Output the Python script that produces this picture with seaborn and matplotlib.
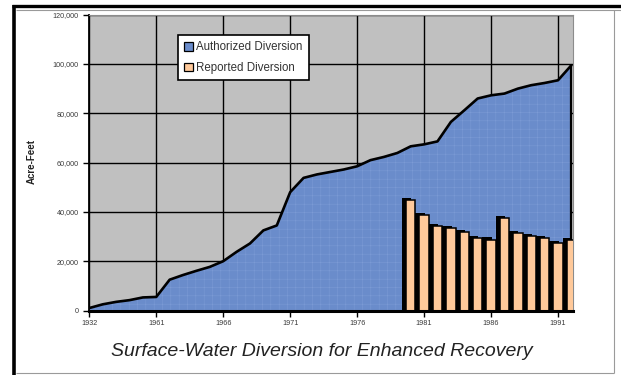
import matplotlib
matplotlib.use("Agg")
import matplotlib.pyplot as plt
from matplotlib.lines import Line2D
from matplotlib.patches import Patch
import numpy as np
import seaborn as sns

# Category axis: one point per year of record
years = ["1932", "1957", "1958", "1959", "1960", "1961", "1962", "1963", "1964",
         "1965", "1966", "1967", "1968", "1969", "1970", "1971", "1972", "1973",
         "1974", "1975", "1976", "1977", "1978", "1979", "1980", "1981", "1982",
         "1983", "1984", "1985", "1986", "1987", "1988", "1989", "1990", "1991",
         "1992"]

# Cumulative authorized diversion (acre-feet)
authorized = [1000, 2500, 3500, 4200, 5300, 5500, 12500, 14400, 16100, 17700,
              20000, 23800, 27200, 32500, 34500, 48000, 53800, 55200, 56200,
              57200, 58500, 61000, 62300, 63900, 66600, 67400, 68600, 76500,
              81200, 86000, 87300, 88000, 90000, 91400, 92300, 93400, 99500]

# Reported diversion (acre-feet)
reported_years = ["1980", "1981", "1982", "1983", "1984", "1985", "1986",
                  "1987", "1988", "1989", "1990", "1991", "1992"]
reported = [44700, 38600, 34200, 33500, 31900, 29500, 28800, 37600, 31500,
            30200, 29500, 27200, 28500]

tick_years = ["1932", "1961", "1966", "1971", "1976", "1981", "1986", "1991"]
y_ticks = [0, 20000, 40000, 60000, 80000, 100000, 120000]

sns.set_theme(style="white")
plt.rcParams["font.family"] = ["Liberation Sans", "DejaVu Sans"]
plt.rcParams["hatch.linewidth"] = 0.35

BLUE = "#6A8CCB"
ORANGE = "#FFC99A"
GRAY_BG = "#C0C0C0"

W, H = 621, 375
fig = plt.figure(figsize=(W / 100, H / 100), dpi=100)
fig.patch.set_facecolor("white")

x0, x1, ytop, ybot = 89.3, 573.0, 14.7, 310.5
ax = fig.add_axes([x0 / W, 1 - ybot / H, (x1 - x0) / W, (ybot - ytop) / H])
ax.set_facecolor(GRAY_BG)

pos = {y: i for i, y in enumerate(years)}
xs = np.arange(len(years))

# Authorized diversion as a filled area with a heavy outline
ax.fill_between(xs, 0, authorized, facecolor=BLUE, edgecolor="#7d9cd6",
                hatch="++", linewidth=0, zorder=2)
sns.lineplot(x=xs, y=authorized, color="black", linewidth=1.9, ax=ax,
             zorder=3, legend=False)
ax.vlines(xs[-1], 0, authorized[-1], color="black", linewidth=1.6, zorder=3)

# Reported diversion as columns with a dark depth face on the left
bx = np.array([pos[y] for y in reported_years], dtype=float)
rv = np.array(reported, dtype=float)
ax.bar(bx - 0.3, rv + 900, width=0.7, color="black", linewidth=0, zorder=4)
ax.bar(bx, rv, width=0.7, color=ORANGE, edgecolor="black", linewidth=1.1,
       zorder=5)

ax.set_xlim(0, len(years) - 1 + 0.12)
ax.set_ylim(0, 120000)

ax.set_xticks([pos[y] for y in tick_years])
ax.set_xticklabels(tick_years)
ax.set_yticks(y_ticks)
ax.set_yticklabels([f"{v:,}" for v in y_ticks])
ax.grid(True, color="black", linewidth=1.0)
ax.set_axisbelow(True)

ax.tick_params(axis="both", which="both", direction="out", length=4, width=1,
               color="black", labelsize=5.2, labelcolor="#3a3a3a")
ax.tick_params(axis="y", left=True, pad=3.5)
ax.tick_params(axis="x", bottom=True, pad=3)

for side in ("top", "right"):
    ax.spines[side].set_color("#8c8c8c")
    ax.spines[side].set_linewidth(0.8)
ax.spines["left"].set_color("black")
ax.spines["left"].set_linewidth(1.3)
ax.spines["bottom"].set_color("black")
ax.spines["bottom"].set_linewidth(2.2)
ax.spines["bottom"].set_zorder(6)

handles = [Patch(facecolor=BLUE, edgecolor="black", linewidth=0.9),
           Patch(facecolor=ORANGE, edgecolor="black", linewidth=0.9)]
leg = ax.legend(handles, ["Authorized Diversion", "Reported Diversion"],
                loc="upper left", bbox_to_anchor=(178 / W, 1 - 35 / H),
                bbox_transform=fig.transFigure, borderaxespad=0,
                fontsize=8.3, labelcolor="#333333", frameon=True,
                fancybox=False, shadow=False, framealpha=1,
                handlelength=0.75, handleheight=0.75, handletextpad=0.25,
                labelspacing=0.75, borderpad=0.55)
leg.get_frame().set_edgecolor("black")
leg.get_frame().set_linewidth(1.2)
leg.set_zorder(10)

fig.text(32 / W, 1 - 162 / H, "Acre-Feet", rotation=90, ha="center",
         va="center", fontsize=7, fontweight="bold", color="#222222")
fig.text(321.5 / W, 1 - 352 / H,
         "Surface-Water Diversion for Enhanced Recovery",
         ha="center", va="center", fontsize=14, style="italic",
         color="#222222")

# Page frame around the figure
def frame_line(xa, ya, xb, yb, color, lw):
    fig.add_artist(Line2D([xa / W, xb / W], [1 - ya / H, 1 - yb / H],
                          transform=fig.transFigure, color=color,
                          linewidth=lw, solid_capstyle="butt"))

frame_line(12, 5.5, W, 5.5, "black", 2.4)
frame_line(16, 9.6, W, 9.6, "#9a9a9a", 0.8)
frame_line(14, 4.5, 14, H, "black", 2.6)
frame_line(613.5, 9.6, 613.5, 372.8, "#9a9a9a", 0.8)
frame_line(16, 372.8, 613.5, 372.8, "#9a9a9a", 0.8)

fig.savefig("out.png", dpi=100)
